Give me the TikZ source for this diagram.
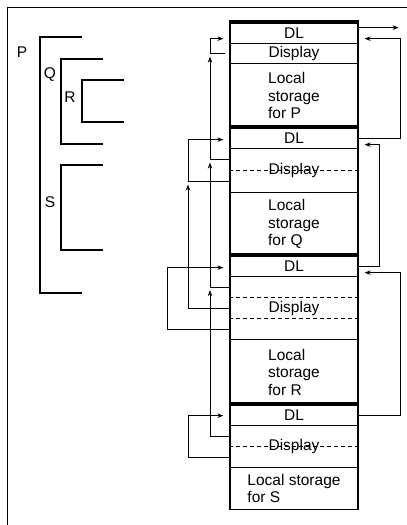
\documentclass[tikz,border=0pt]{standalone}
\usepackage{fontspec}
\setmainfont{Liberation Sans}
\usetikzlibrary{arrows.meta}

\tikzset{
  cell/.style={draw, line width=1.3pt, minimum width=128pt, inner sep=0pt, anchor=north},
  bar/.style={line width=4pt},
  divider/.style={dash pattern=on 4pt off 3pt, line width=0.7pt},
  link/.style={->, line width=0.7pt},
  into/.style={link, shorten >=6pt},
  bracket/.style={line width=2pt},
}

\begin{document}
\begin{tikzpicture}[x=1pt, y=-1pt, >={Stealth[length=6pt,width=4.5pt]},
    font=\fontsize{15.5}{17.5}\selectfont]
    \useasboundingbox (0,0) rectangle (407,525);
    \draw[line width=1pt] (7,525) -- (7,7) -- (407,7);

    % nesting of the procedures
    \draw[bracket] (82,37) -| (40,293) -- (82,293);
    \draw[bracket] (103,59) -| (61,144) -- (103,144);
    \draw[bracket] (124,80) -| (82,122) -- (124,122);
    \draw[bracket] (103,165) -| (61,250) -- (103,250);
    \node (labP) at (22,52) {P};
    \node (labQ) at (50,75) {Q};
    \node (labR) at (70,97) {R};
    \node (labS) at (50,202) {S};

    % the stack
    \node[cell, minimum height=21pt] (dlP) at (294,22) {DL};
    \node[cell, minimum height=20pt] (dispP) at (294,43) {Display};
    \node[cell, minimum height=64pt, align=left] (locP) at (294,63) {Local\\storage\\for P};
    \node[cell, minimum height=21pt] (dlQ) at (294,127) {DL};
    \node[cell, minimum height=44pt] (dispQ) at (294,148) {Display};
    \node[cell, minimum height=63pt, align=left] (locQ) at (294,192) {Local\\storage\\for Q};
    \node[cell, minimum height=21pt] (dlR) at (294,255) {DL};
    \node[cell, minimum height=63pt] (dispR) at (294,276) {Display};
    \node[cell, minimum height=65pt, align=left] (locR) at (294,339) {Local\\storage\\for R};
    \node[cell, minimum height=21pt] (dlS) at (294,404) {DL};
    \node[cell, minimum height=42pt] (dispS) at (294,425) {Display};
    \node[cell, minimum height=42pt, align=left] (locS) at (294,467) {Local storage\\for S};

    \foreach \n in {dlP,dlQ,dlR,dlS}
        \draw[bar] (\n.north west) -- (\n.north east);
    \draw[divider] (dispQ.west) -- (dispQ.east);
    \draw[divider] ([yshift=10.5pt]dispR.west) -- ([yshift=10.5pt]dispR.east);
    \draw[divider] ([yshift=-10.5pt]dispR.west) -- ([yshift=-10.5pt]dispR.east);
    \draw[divider] (dispS.west) -- (dispS.east);

    % display entries and rails
    \coordinate (dP1) at (dispP.west);
    \coordinate (dQ1) at ([yshift=11pt]dispQ.west);
    \coordinate (dQ2) at ([yshift=-11pt]dispQ.west);
    \coordinate (dR1) at ([yshift=21pt]dispR.west);
    \coordinate (dR2) at (dispR.west);
    \coordinate (dR3) at ([yshift=-21pt]dispR.west);
    \coordinate (dS1) at ([yshift=10.5pt]dispS.west);
    \coordinate (dS2) at ([yshift=-10.5pt]dispS.west);
    \coordinate (r1) at (210,0);
    \coordinate (r2) at (188,0);
    \coordinate (r3) at (167,0);
    \coordinate (q1) at (400,0);
    \coordinate (q2) at (379,0);

    % display pointers
    \draw[into] ([xshift=-4pt]dP1) -- (dP1 -| r1) |- ([yshift=-5.5pt]dlP.west);
    \draw[link] (dQ1) -- (dQ1 -| r1) -- ([yshift=-3pt]dP1 -| r1);
    \draw[link] (dR1) -- (dR1 -| r1) -- ([yshift=-3pt]dQ1 -| r1);
    \draw[link] (dS1) -- (dS1 -| r1) -- ([yshift=-3pt]dR1 -| r1);
    \draw[into] (dQ2) -- (dQ2 -| r2) |- ([yshift=-1.5pt]dlQ.west);
    \draw[link] (dR2) -- (dR2 -| r2) -- ([yshift=-3pt]dQ2 -| r2);
    \draw[into] (dR3) -- (dR3 -| r3) |- ([yshift=-1.5pt]dlR.west);
    \draw[into] (dS2) -- (dS2 -| r2) |- ([yshift=-0.5pt]dlS.west);

    % dynamic links
    \draw[link] ([yshift=5.5pt]dlP.east) -- ++(40,0);
    \draw[into] (dlQ.east) -| ([yshift=-5.5pt]dlP.east -| q1) -- ([yshift=-5.5pt]dlP.east);
    \draw[into] (dlR.east) -| ([yshift=-6.5pt]dlQ.east -| q2) -- ([yshift=-6.5pt]dlQ.east);
    \draw[into] (dlS.east) -| ([yshift=-6.5pt]dlR.east -| q1) -- ([yshift=-6.5pt]dlR.east);
\end{tikzpicture}
\end{document}
